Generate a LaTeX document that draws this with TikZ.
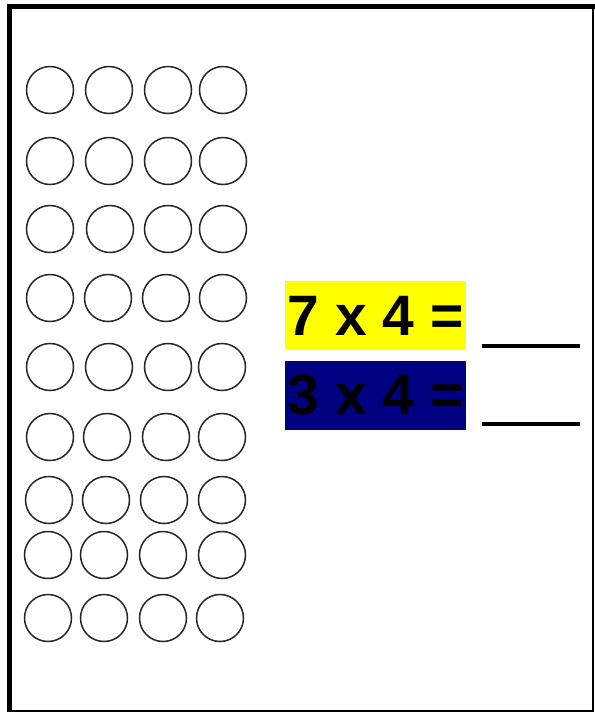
\documentclass[tikz,border=0pt]{standalone}
\usepackage{fontspec}
\setmainfont{Liberation Sans}
\definecolor{navyblue}{HTML}{000080}
\definecolor{brightyellow}{HTML}{FFFF00}
\tikzset{
  dot/.style={circle,draw=black!85,line width=1.5pt,minimum size=47pt,inner sep=0pt},
  eqbox/.style={minimum width=181pt,minimum height=69pt,inner sep=0pt,font=\fontsize{57}{60}\selectfont\bfseries,text=black},
  answer/.style={line width=4pt,black},
}
\begin{document}
\begin{tikzpicture}[x=1pt,y=-1pt]
\useasboundingbox (0,0) rectangle (595,713);
\fill[white] (0,0) rectangle (595,713);
% frame
\coordinate (tl) at (7,6.5);
\coordinate (tr) at (593,6.5);
\coordinate (bl) at (9.5,711);
\coordinate (br) at (593,711);
\draw[line width=5pt] (9.5,4) -- (9.5,712);
\draw[line width=5pt] (7,6.5) -- (595,6.5);
\draw[line width=2pt] (593,6.5) -- (593,712);
\draw[line width=2pt] (9.5,711) -- (594,711);
% circles
\foreach \r/\y/\a/\b/\c/\d in {1/90/50/109/168/223, 2/161/50/109/168/223, 3/229/50/110/168/223, 4/298/50/108/166/223, 5/367/50/109/168/222, 6/437/50/107/166/222, 7/500/49/106/164/222, 8/555/48/104/163/222, 9/618/48/104/163/220}{
  \node[dot] (c\r-1) at (\a,\y) {};
  \node[dot] (c\r-2) at (\b,\y) {};
  \node[dot] (c\r-3) at (\c,\y) {};
  \node[dot] (c\r-4) at (\d,\y) {};
}
% equations
\node[eqbox,fill=brightyellow] (eq1) at (375.5,315.5) {7 x 4 =};
\node[eqbox,fill=navyblue] (eq2) at (375.5,395) {3 x 4 =};
\coordinate (a1s) at (482,346);
\coordinate (a1e) at (580,346);
\coordinate (a2s) at (482,424);
\coordinate (a2e) at (580,424);
\draw[answer] (a1s) -- (a1e);
\draw[answer] (a2s) -- (a2e);
\end{tikzpicture}
\end{document}
